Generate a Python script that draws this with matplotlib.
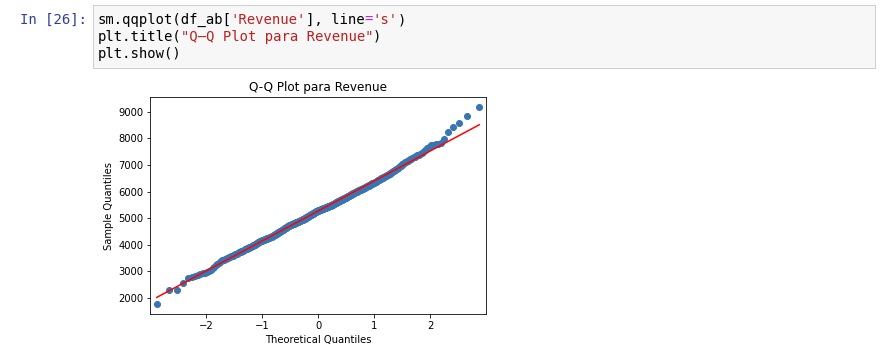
import matplotlib
matplotlib.use("Agg")
import matplotlib.pyplot as plt
from matplotlib.patches import Rectangle
import numpy as np
from statistics import NormalDist

# ---------------- data (sorted Revenue sample) ----------------
lower_tail = [1764, 2295, 2320, 2550, 2742, 2786, 2830, 2871, 2902, 2936, 2958, 2975,
              3020, 3060, 3122, 3180, 3234, 3285, 3330, 3372,
              3395, 3418, 3440, 3462, 3482, 3498, 3515, 3530, 3548, 3563,
              3578, 3593, 3608, 3624, 3640, 3655, 3672, 3689, 3706, 3722,
              3734, 3747, 3760, 3773, 3786, 3799, 3812, 3825, 3838, 3851,
              3861, 3871, 3881, 3891, 3902, 3912, 3922, 3932, 3942, 3952,
              3964, 3976, 3988, 4000, 4012, 4024, 4036, 4048, 4060, 4072, 4084, 4096, 4108, 4120, 4132]
lower_body = [4143, 4150, 4156, 4162, 4169, 4175, 4181, 4188, 4194, 4200, 4207, 4213, 4219, 4226, 4232,
              4238, 4245, 4251, 4257, 4264, 4270, 4276, 4283, 4289, 4295,
              4303, 4312, 4320, 4329, 4337, 4345, 4354, 4362, 4371, 4379, 4387, 4396, 4404, 4413, 4421,
              4429, 4438, 4446, 4455, 4463, 4471, 4480, 4488, 4497, 4505,
              4513, 4522, 4530, 4538, 4547, 4555, 4563, 4572, 4580, 4588, 4597, 4605, 4613, 4622, 4630,
              4638, 4647, 4655, 4663, 4672, 4680, 4688, 4697, 4705, 4713,
              4718, 4723, 4728, 4733, 4738, 4743, 4748, 4753, 4758, 4764, 4769, 4774, 4779, 4784, 4789,
              4794, 4799, 4804, 4809, 4815, 4820, 4825, 4830, 4835, 4840,
              4845, 4850, 4855, 4860, 4865, 4870, 4875, 4880, 4886, 4891, 4896, 4901, 4906, 4911, 4916,
              4921, 4926, 4931, 4936, 4942, 4947, 4952, 4957, 4962, 4967,
              4974, 4980, 4987, 4993, 5000, 5006, 5013, 5020, 5026, 5033, 5039, 5046, 5052, 5059, 5065,
              5072, 5079, 5085, 5092, 5098, 5105, 5111, 5118, 5124, 5131,
              5137, 5143, 5149, 5155, 5161, 5167, 5173, 5179, 5185, 5191, 5197, 5203, 5210, 5216, 5222,
              5228, 5234, 5240, 5246, 5252, 5258, 5264, 5270, 5276, 5282]
upper_body = [5285, 5289, 5293, 5297, 5301, 5306, 5310, 5314, 5318, 5322, 5326, 5331, 5335, 5339, 5343,
              5347, 5351, 5356, 5360, 5364, 5368, 5372, 5376, 5381, 5385, 5389,
              5394, 5398, 5403, 5407, 5412, 5416, 5421, 5425, 5430, 5435, 5439, 5444, 5448, 5453, 5457,
              5462, 5466, 5471, 5476, 5480, 5485, 5489, 5494, 5498, 5503,
              5509, 5516, 5522, 5528, 5534, 5541, 5547, 5553, 5560, 5566, 5572, 5578, 5585, 5591, 5597,
              5604, 5610, 5616, 5622, 5629, 5635, 5641, 5648, 5654, 5660,
              5666, 5672, 5678, 5684, 5689, 5695, 5701, 5707, 5713, 5719, 5725, 5731, 5736, 5742, 5748,
              5754, 5760, 5766, 5772, 5778, 5783, 5789, 5795, 5801, 5807,
              5814, 5821, 5828, 5835, 5843, 5850, 5857, 5864, 5871, 5878, 5885, 5892, 5900, 5907, 5914,
              5921, 5928, 5935, 5942, 5949, 5957, 5964, 5971, 5978, 5985,
              5992, 5999, 6005, 6012, 6019, 6026, 6033, 6039, 6046, 6053, 6060, 6067, 6073, 6080, 6087,
              6094, 6101, 6107, 6114, 6121, 6128, 6135, 6141, 6148, 6155,
              6164, 6172, 6181, 6190, 6199, 6207, 6216, 6225, 6233, 6242, 6251, 6260, 6268, 6277, 6286,
              6295, 6303, 6312, 6321, 6329, 6338, 6347, 6356, 6364, 6373]
upper_tail = [6394, 6405, 6416, 6427, 6438, 6449, 6460, 6471, 6482, 6493, 6504, 6515, 6526, 6537, 6548,
              6560, 6572, 6584, 6596, 6608, 6620, 6632, 6644, 6656, 6668,
              6686, 6704, 6722, 6740, 6758, 6776, 6794, 6812, 6830, 6847,
              6872, 6897, 6922, 6947, 6972, 6997, 7022, 7047, 7072, 7096,
              7118, 7140, 7162, 7184, 7206, 7230, 7254, 7278, 7302, 7326,
              7357, 7388, 7419, 7450, 7481, 7560, 7640, 7690,
              7735, 7750, 7770, 7790, 7820, 7990, 8227, 8437, 8587, 8850, 9188]

x_ticks = [-2, -1, 0, 1, 2]
y_ticks = [2000, 3000, 4000, 5000, 6000, 7000, 8000, 9000]

prompt_text = "In [26]:"
code_lines = [
    [("sm.qqplot(df_ab[", "k"), ("'Revenue'", "s"), ("], line", "k"), ("=", "o"), ("'s'", "s"), (")", "k")],
    [("plt.title(", "k"), ('"Q\u2013Q Plot para Revenue"', "s"), (")", "k")],
    [("plt.show()", "k")],
]
title_text = "Q-Q Plot para Revenue"

# ---------------- figure ----------------
W, H, DPI = 886, 361, 72
fig = plt.figure(figsize=(W / DPI, H / DPI), dpi=DPI)
fig.patch.set_facecolor("white")

def fx(px):
    return px / W

def fy(py):
    return 1 - py / H

# code cell box
fig.add_artist(Rectangle((fx(92.5), fy(67.5)), fx(874.5) - fx(92.5), fy(4.5) - fy(67.5),
                         transform=fig.transFigure, facecolor="#f7f7f7",
                         edgecolor="#cfcfcf", lw=1))

mono = "DejaVu Sans Mono"
fs = 13.85
cw = 0.60205 * fs  # px per char at 72 dpi
colors = {"k": "#000000", "s": "#ba2121", "o": "#aa22ff"}
fig.text(fx(19.5), fy(24), prompt_text, fontfamily=mono, fontsize=fs,
         color="#303f9f", va="baseline", ha="left")
baselines = [24, 41, 58]
for line, base in zip(code_lines, baselines):
    col = 0
    for seg, c in line:
        fig.text(fx(97.3 + col * cw), fy(base), seg, fontfamily=mono, fontsize=fs,
                 color=colors[c], va="baseline", ha="left")
        col += len(seg)

# ---------------- Q-Q plot ----------------
sample = np.array(lower_tail + lower_body + upper_body + upper_tail, dtype=float)
sample.sort()
n = len(sample)
nd = NormalDist()
theo = np.array([nd.inv_cdf(i / (n + 1)) for i in range(1, n + 1)])
ref = theo * np.std(sample) + np.mean(sample)

ax = fig.add_axes([fx(150.3), fy(314.3), fx(485.7) - fx(150.3), fy(96.7) - fy(314.3)])
ax.set_xmargin(0.02)
ax.plot(theo, sample, linestyle="none", marker="o", markersize=6,
        markerfacecolor="#3776b3", markeredgecolor="#3776b3")
ax.plot(theo, ref, "r-", lw=1.5)
ax.set_xticks(x_ticks)
ax.set_yticks(y_ticks)
ax.set_title(title_text, fontsize=12)
ax.set_xlabel("Theoretical Quantiles", fontsize=10)
ax.set_ylabel("Sample Quantiles", fontsize=10)
ax.tick_params(labelsize=10)

fig.savefig("out.png", dpi=DPI, facecolor="white")
